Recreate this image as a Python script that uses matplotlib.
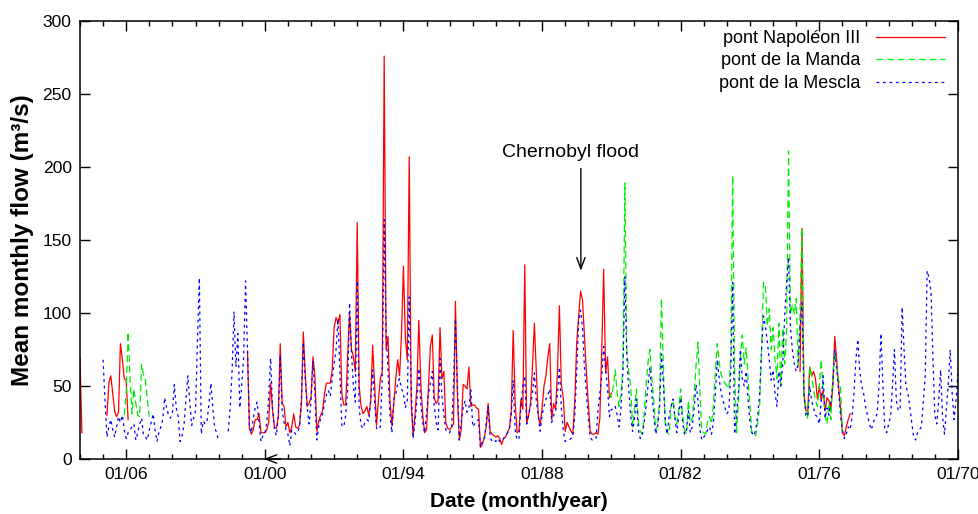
import numpy as np
import matplotlib.pyplot as plt
from matplotlib.ticker import MultipleLocator

plt.rcParams['font.family'] = ['Liberation Sans', 'DejaVu Sans']

# Mean monthly flow (m3/s) of the Var. Each list runs backwards in time,
# one value per month, starting at the (year, month) given with it.
napoleon_a_start = (2008, 1)
napoleon_a = [69, 18]
napoleon_b_start = (2006, 11)
napoleon_b = [30, 52, 57, 45, 33, 29, 32, 79, 68, 55, 54, 27]
napoleon_c_start = (2000, 10)
napoleon_c = [
    74, 21, 17, 20, 27, 27, 31, 18, 18, 18, 20, 25,
    52, 34, 22, 21, 29, 79, 38, 36, 22, 25, 18, 22,
    31, 22, 21, 23, 38, 87, 58, 36, 38, 42, 70, 57,
    19, 26, 30, 33, 45, 52, 52, 52, 61, 90, 97, 93,
    99, 45, 37, 37, 70, 100, 75, 70, 60, 162, 50, 36,
    31, 33, 36, 30, 40, 78, 52, 23, 40, 55, 60, 276,
    75, 84, 40, 23, 38, 55, 68, 57, 86, 132, 83, 68,
    207, 40, 16, 30, 50, 95, 52, 30, 18, 20, 50, 77,
    85, 42, 38, 40, 90, 55, 60, 25, 21, 20, 22, 24,
    108, 45, 13, 20, 51, 50, 48, 63, 36, 37, 37, 35,
    34, 8, 10, 15, 22, 38, 19, 17, 16, 15, 16, 14,
    10, 14, 15, 18, 21, 33, 88, 40, 18, 19, 41, 34,
    133, 24, 30, 38, 63, 93, 60, 30, 23, 35, 50, 57,
    70, 79, 27, 38, 34, 60, 105, 51, 42, 19, 25, 22,
    19, 17, 40, 80, 98, 115, 109, 84, 60, 38, 19, 17,
    17, 18, 17, 28, 75, 130, 59, 70, 42, 45]
napoleon_d_start = (1976, 11)
napoleon_d = [60, 158, 45, 33, 33, 63, 57, 60, 55, 41, 50, 40, 47, 33,
              42, 40, 34, 50, 84, 68, 50, 35, 18, 16, 22, 27, 31]

manda_a_start = (2006, 2)
manda_a = [30, 45, 87, 55, 31, 48, 38, 30, 29, 65, 58, 54, 40, 29]
manda_b_start = (1985, 2)
manda_b = [
    45, 42, 50, 61, 45, 36, 45, 63, 189, 75, 60, 51,
    22, 35, 48, 25, 19, 17, 30, 50, 66, 75, 55, 40,
    19, 24, 40, 110, 63, 22, 18, 17, 36, 40, 29, 24,
    35, 48, 29, 20, 17, 40, 25, 28, 45, 65, 80, 45,
    19, 18, 17, 27, 29, 24, 38, 60, 79, 66, 58, 54,
    52, 50, 48, 70, 194, 60, 18, 40, 70, 85, 65, 76,
    54, 36, 17, 17, 16, 25, 36, 75, 121, 118, 91, 103,
    75, 90, 68, 55, 93, 50, 90, 65, 88, 211, 99, 106,
    99, 110, 63, 100, 158, 42, 36, 27, 63, 57, 48, 40,
    36, 50, 68, 45, 30, 24, 38, 27, 57, 73, 63, 54,
    50, 18]

mescla_a_start = (2007, 1)
mescla_a = [
    68, 40, 15, 22, 27, 20, 15, 22, 29, 25, 30, 20,
    14, 18, 20, 22, 24, 13, 18, 24, 28, 16, 15, 13,
    20, 25, 31, 20, 12, 18, 22, 27, 42, 35, 30, 28,
    32, 51, 35, 29, 12, 16, 23, 40, 57, 40, 23, 28,
    33, 80, 124, 17, 26, 24, 26, 38, 52, 35, 21, 18,
    12]
mescla_b_start = (2001, 8)
mescla_b = [
    19, 35, 60, 101, 63, 86, 35, 50, 70, 122, 75, 23,
    18, 28, 35, 39, 25, 12, 16, 17, 25, 42, 69, 35,
    20, 16, 29, 71, 33, 25, 20, 17, 9, 20, 19, 17,
    18, 22, 40, 80, 55, 35, 24, 40, 67, 45, 13, 22,
    28, 31, 38, 44, 47, 43, 55, 65, 75, 96, 60, 23,
    22, 30, 47, 107, 73, 50, 39, 122, 35, 23, 21, 25,
    27, 26, 40, 61, 40, 21, 20, 22, 57, 164, 86, 60,
    30, 18, 41, 44, 52, 55, 48, 45, 35, 40, 111, 50,
    14, 25, 40, 62, 38, 25, 18, 31, 45, 52, 60, 36,
    25, 20, 69, 43, 30, 20, 18, 18, 22, 50, 96, 52,
    13, 25, 35, 40, 32, 35, 48, 22, 24, 26, 27, 8,
    12, 13, 25, 36, 15, 12, 13, 12, 14, 12, 12, 14,
    16, 18, 20, 30, 54, 20, 13, 14, 35, 50, 57, 24,
    30, 36, 45, 59, 40, 30, 19, 30, 36, 41, 44, 48,
    25, 30, 32, 45, 63, 35, 20, 12, 13, 13, 14, 15,
    30, 60, 95, 102, 90, 63, 45, 29, 15, 13, 13, 14,
    33, 45, 57, 77, 62, 48, 29, 34, 34, 36, 30, 22,
    35, 60, 125, 70, 48, 30, 19, 28, 41, 20, 14, 16,
    25, 36, 50, 63, 45, 30, 17, 22, 35, 72, 52, 25,
    17, 30, 36, 41, 28, 18, 30, 42, 25, 17, 20, 33,
    18, 22, 35, 51, 40, 20, 13, 15, 17, 20, 22, 17,
    25, 45, 68, 55, 45, 40, 35, 31, 33, 60, 121, 17,
    30, 45, 75, 55, 50, 60, 40, 25, 18, 16, 20, 30,
    45, 75, 98, 91, 80, 68, 54, 61, 45, 36, 60, 50,
    65, 98, 120, 138, 90, 75, 65, 60, 65, 90, 107, 45,
    30, 29, 50, 40, 35, 30, 29, 24, 40, 57, 28, 35,
    30, 40, 50, 75, 62, 47, 30, 20, 14, 17, 22, 20,
    29, 45, 68, 82, 60, 50, 45, 36, 30, 24, 20, 25,
    28, 31, 50, 86, 52, 20, 18, 24, 29, 50, 75, 40,
    33, 35, 104, 75, 50, 45, 36, 25, 15, 13, 18, 20,
    22, 40, 57, 129, 124, 115, 70, 30, 24, 40, 61, 29,
    17, 35, 52, 75, 45, 27, 40, 60, 75]

tick_years = [2006, 2000, 1994, 1988, 1982, 1976, 1970]
tick_labels = ['01/06', '01/00', '01/94', '01/88', '01/82', '01/76', '01/70']


def join(*segments):
    # glue segments into one line, NaN between them leaves the gaps
    xs, ys = [], []
    for (y, m), vals in segments:
        t0 = y + (m - 1) / 12.0
        xs += list(t0 - np.arange(len(vals)) / 12.0) + [np.nan]
        ys += list(vals) + [np.nan]
    return np.array(xs), np.array(ys)


xn, yn = join((napoleon_a_start, napoleon_a), (napoleon_b_start, napoleon_b),
              (napoleon_c_start, napoleon_c), (napoleon_d_start, napoleon_d))
xm, ym = join((manda_a_start, manda_a), (manda_b_start, manda_b))
xs, ys = join((mescla_a_start, mescla_a), (mescla_b_start, mescla_b))

fig = plt.figure(figsize=(9.79, 5.14), dpi=100)
ax = fig.add_axes([0.0817, 0.107, 0.8968, 0.852])

ax.plot(xn, yn, color='#ff0000', lw=0.9, label='pont Napoléon III')
ax.plot(xm, ym, color='#00ee00', lw=0.9, dashes=(5.5, 3.0),
        label='pont de la Manda')
ax.plot(xs, ys, color='#0000ff', lw=0.9, dashes=(2.2, 3.0),
        label='pont de la Mescla')

ax.set_xlim(2008, 1970)
ax.set_ylim(0, 300)
ax.set_xticks(tick_years)
ax.set_xticklabels(tick_labels)
ax.xaxis.set_minor_locator(MultipleLocator(1))
ax.yaxis.set_major_locator(MultipleLocator(50))
ax.tick_params(which='both', direction='in', top=True, right=True,
               width=1.0, labelsize=12.6)
ax.tick_params(which='major', length=7, pad=6)
ax.tick_params(which='minor', length=3.5)
for s in ax.spines.values():
    s.set_linewidth(1.1)

ax.set_xlabel('Date (month/year)', fontsize=15, fontweight='bold', labelpad=7)
ax.set_ylabel('Mean monthly flow (m³/s)', fontsize=17.5, fontweight='bold',
              labelpad=6)

# Chernobyl flood marker
ax.text(1986.75, 210, 'Chernobyl flood', fontsize=14, ha='center', va='center')
ax.annotate('', xy=(1986.32, 129), xytext=(1986.32, 199),
            arrowprops=dict(arrowstyle='->,head_length=0.8,head_width=0.3',
                            color='black', lw=1.0, shrinkA=0, shrinkB=0))
# small arrow head left on the x axis at 01/00
ax.annotate('', xy=(2000.05, 0), xytext=(1999.3, 0),
            arrowprops=dict(arrowstyle='->,head_length=0.8,head_width=0.3',
                            color='black', lw=1.0, shrinkA=0, shrinkB=0),
            annotation_clip=False)

ax.legend(loc='upper right', bbox_to_anchor=(0.993, 0.996), frameon=False,
          markerfirst=False, fontsize=13, handlelength=3.8,
          handletextpad=0.85, labelspacing=0.3, borderaxespad=0)

fig.savefig('out.png', dpi=100)
